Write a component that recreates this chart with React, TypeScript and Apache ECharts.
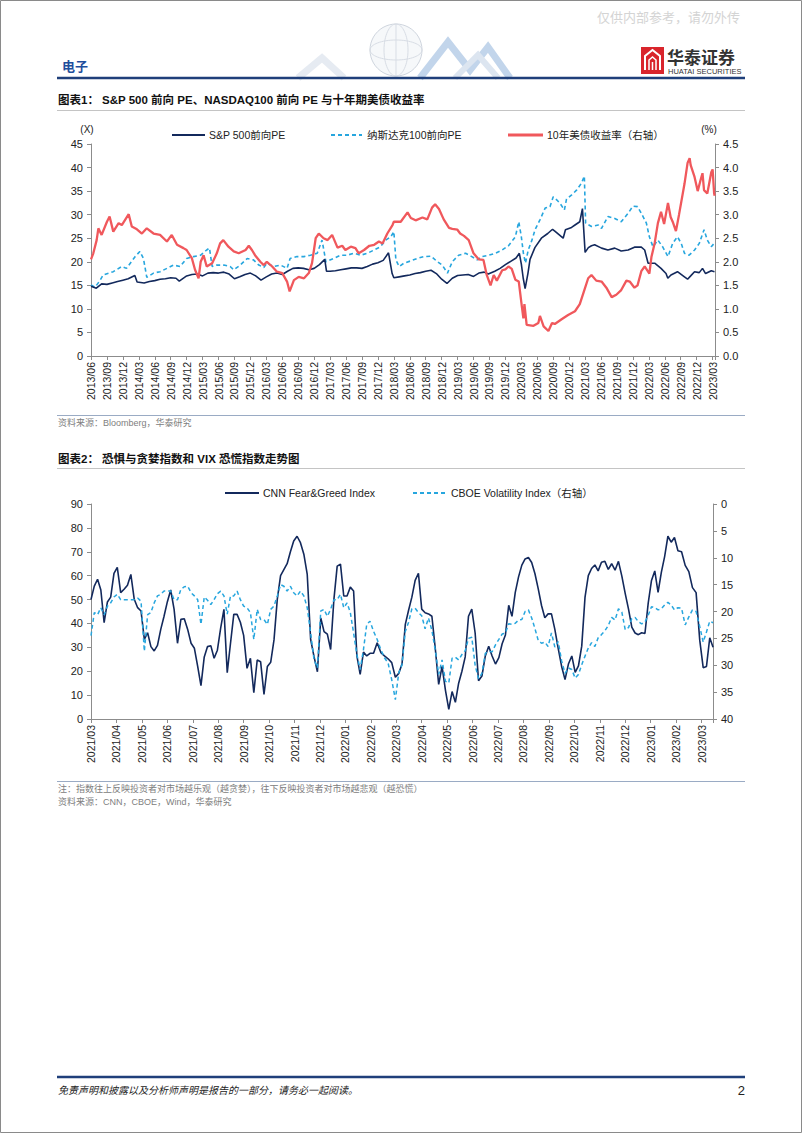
import React, { useEffect, useRef } from "react";
import * as echarts from "echarts";

// ---------- Chart 1: S&P 500 fwd PE, NASDAQ100 fwd PE, 10Y UST yield ----------
const spxPE: [string, number][] = [
  ["2013-06-01", 14.8], ["2013-07-01", 14.4], ["2013-08-01", 15.3], ["2013-09-01", 15.2], ["2013-10-01", 15.5],
  ["2013-11-01", 15.8], ["2013-12-01", 16.1], ["2014-01-01", 16.4], ["2014-02-08", 17.1], ["2014-02-20", 15.7],
  ["2014-04-01", 15.5], ["2014-05-01", 15.8], ["2014-06-01", 16.0], ["2014-07-01", 16.3], ["2014-08-01", 16.4],
  ["2014-09-01", 16.6], ["2014-10-01", 16.5], ["2014-10-20", 15.9], ["2014-12-01", 17.0], ["2015-01-01", 17.3],
  ["2015-02-01", 17.4], ["2015-03-01", 17.0], ["2015-04-01", 17.6], ["2015-05-01", 17.7], ["2015-06-01", 17.6],
  ["2015-07-01", 17.8], ["2015-08-01", 17.4], ["2015-09-01", 16.4], ["2015-10-01", 16.8], ["2015-11-01", 17.3],
  ["2015-12-01", 17.6], ["2016-01-01", 17.0], ["2016-02-01", 16.1], ["2016-03-01", 16.8], ["2016-04-01", 17.4],
  ["2016-05-01", 17.6], ["2016-06-01", 17.3], ["2016-07-01", 18.0], ["2016-08-01", 18.6], ["2016-09-01", 18.7],
  ["2016-10-01", 18.6], ["2016-11-01", 18.3], ["2016-12-01", 18.6], ["2017-01-01", 19.4], ["2017-02-01", 20.5],
  ["2017-02-10", 18.0], ["2017-03-01", 18.0], ["2017-04-01", 18.1], ["2017-05-01", 18.3], ["2017-06-01", 18.5],
  ["2017-07-01", 18.7], ["2017-08-01", 18.7], ["2017-09-01", 18.6], ["2017-10-01", 19.0], ["2017-11-01", 19.5],
  ["2017-12-01", 19.8], ["2018-01-01", 20.3], ["2018-02-01", 21.9], ["2018-02-20", 17.5], ["2018-03-01", 16.6],
  ["2018-04-01", 16.8], ["2018-05-01", 17.0], ["2018-06-01", 17.2], ["2018-07-01", 17.5], ["2018-08-01", 17.7],
  ["2018-09-01", 18.0], ["2018-10-01", 18.2], ["2018-11-01", 17.5], ["2018-12-01", 16.3], ["2019-01-01", 15.4],
  ["2019-02-01", 16.5], ["2019-03-01", 17.1], ["2019-04-01", 17.2], ["2019-05-01", 17.3], ["2019-06-01", 16.9],
  ["2019-07-01", 17.6], ["2019-08-01", 17.8], ["2019-08-25", 17.4], ["2019-10-01", 18.0], ["2019-11-01", 18.6],
  ["2019-12-01", 19.4], ["2020-01-01", 20.1], ["2020-02-01", 20.8], ["2020-02-19", 21.8], ["2020-03-01", 19.5],
  ["2020-03-12", 16.5], ["2020-03-23", 14.3], ["2020-04-08", 17.5], ["2020-04-20", 20.5], ["2020-05-18", 23.0],
  ["2020-06-24", 25.0], ["2020-07-31", 26.0], ["2020-08-28", 26.9], ["2020-09-10", 26.5], ["2020-10-28", 25.0],
  ["2020-11-10", 26.8], ["2020-12-15", 27.3], ["2021-01-04", 27.8], ["2021-02-01", 28.5], ["2021-02-15", 31.3],
  ["2021-03-01", 22.0], ["2021-03-20", 23.0], ["2021-04-07", 23.4], ["2021-04-25", 23.6], ["2021-06-04", 22.9],
  ["2021-07-10", 22.5], ["2021-08-19", 22.9], ["2021-09-25", 22.3], ["2021-11-04", 22.5], ["2021-12-10", 23.1],
  ["2022-01-19", 23.1], ["2022-02-07", 22.5], ["2022-02-25", 19.7], ["2022-04-04", 19.7], ["2022-05-10", 18.6],
  ["2022-06-08", 17.5], ["2022-06-18", 16.5], ["2022-07-06", 17.2], ["2022-08-13", 17.9], ["2022-09-22", 16.8],
  ["2022-10-10", 16.3], ["2022-10-28", 17.0], ["2022-11-19", 17.9], ["2022-12-16", 17.7], ["2023-01-04", 18.6],
  ["2023-01-22", 17.5], ["2023-02-22", 18.1], ["2023-03-12", 17.9],
];

const ndxPE: [string, number][] = [
  ["2013-06-01", 15.1], ["2013-06-24", 14.6], ["2013-07-22", 16.0], ["2013-08-10", 17.2], ["2013-10-07", 17.9],
  ["2013-11-25", 19.0], ["2013-12-22", 18.6], ["2014-02-10", 21.1], ["2014-03-07", 22.2], ["2014-03-28", 20.7],
  ["2014-04-16", 16.7], ["2014-05-25", 17.6], ["2014-07-01", 17.9], ["2014-08-10", 18.6], ["2014-09-16", 19.3],
  ["2014-10-25", 19.0], ["2014-12-01", 20.7], ["2015-01-10", 21.1], ["2015-02-19", 21.4], ["2015-03-25", 22.5],
  ["2015-04-10", 22.9], ["2015-04-25", 19.0], ["2015-05-22", 19.3], ["2015-07-01", 19.3], ["2015-08-07", 19.0],
  ["2015-08-28", 18.3], ["2015-10-04", 19.3], ["2015-11-13", 20.7], ["2015-12-19", 20.4], ["2016-01-19", 19.3],
  ["2016-02-16", 18.8], ["2016-03-04", 19.7], ["2016-04-13", 19.0], ["2016-05-22", 19.3], ["2016-06-28", 18.6],
  ["2016-07-16", 20.7], ["2016-08-25", 21.1], ["2016-10-04", 21.1], ["2016-11-10", 21.4], ["2016-12-19", 21.8],
  ["2017-01-16", 24.6], ["2017-02-07", 20.0], ["2017-03-22", 20.7], ["2017-05-01", 21.4], ["2017-06-07", 21.4],
  ["2017-07-16", 21.8], ["2017-08-25", 21.4], ["2017-10-01", 21.8], ["2017-11-10", 22.5], ["2017-12-16", 23.2],
  ["2018-01-16", 24.6], ["2018-02-13", 25.3], ["2018-03-01", 26.4], ["2018-03-13", 20.4], ["2018-04-01", 19.0],
  ["2018-04-28", 19.7], ["2018-06-07", 20.2], ["2018-07-13", 20.7], ["2018-08-22", 21.1], ["2018-10-01", 21.2],
  ["2018-11-07", 20.0], ["2018-12-04", 19.3], ["2019-01-04", 17.6], ["2019-02-01", 20.0], ["2019-03-07", 21.4],
  ["2019-04-16", 21.8], ["2019-05-22", 21.1], ["2019-06-22", 20.4], ["2019-07-19", 21.1], ["2019-08-28", 21.4],
  ["2019-10-04", 21.8], ["2019-11-13", 22.5], ["2019-12-19", 23.4], ["2020-01-28", 25.3], ["2020-02-16", 28.5],
  ["2020-03-01", 25.3], ["2020-03-13", 21.8], ["2020-03-25", 19.7], ["2020-04-10", 22.5], ["2020-05-01", 24.6],
  ["2020-05-19", 26.8], ["2020-06-16", 28.9], ["2020-07-16", 31.4], ["2020-08-13", 31.7], ["2020-09-01", 33.8],
  ["2020-09-22", 33.1], ["2020-10-10", 32.4], ["2020-11-04", 31.0], ["2020-11-16", 33.3], ["2020-12-16", 34.2],
  ["2021-01-13", 35.2], ["2021-02-10", 36.7], ["2021-02-25", 38.2], ["2021-03-04", 28.2], ["2021-04-07", 27.5],
  ["2021-05-16", 27.8], ["2021-06-04", 27.1], ["2021-07-10", 29.6], ["2021-08-19", 29.2], ["2021-09-25", 28.5],
  ["2021-11-04", 30.3], ["2021-12-01", 31.8], ["2021-12-28", 31.7], ["2022-01-19", 30.3], ["2022-02-16", 28.2],
  ["2022-03-04", 25.3], ["2022-03-25", 23.2], ["2022-04-22", 24.6], ["2022-05-19", 23.2], ["2022-06-19", 21.1],
  ["2022-07-16", 23.9], ["2022-08-13", 25.3], ["2022-09-04", 23.9], ["2022-09-22", 21.8], ["2022-10-19", 21.4],
  ["2022-11-19", 22.5], ["2022-12-16", 23.9], ["2023-01-13", 26.8], ["2023-02-01", 24.6], ["2023-02-22", 23.2],
  ["2023-03-10", 23.9],
];

const ust10y: [string, number][] = [
  ["2013-06-01", 2.05], ["2013-06-14", 2.18], ["2013-07-03", 2.46], ["2013-07-13", 2.71], ["2013-08-01", 2.57],
  ["2013-09-01", 2.85], ["2013-09-16", 2.96], ["2013-10-07", 2.64], ["2013-11-07", 2.82], ["2013-11-25", 2.78],
  ["2014-01-04", 3.01], ["2014-01-22", 2.75], ["2014-02-19", 2.69], ["2014-03-19", 2.6], ["2014-04-16", 2.71],
  ["2014-05-25", 2.6], ["2014-07-01", 2.57], ["2014-08-10", 2.43], ["2014-09-07", 2.57], ["2014-10-07", 2.36],
  ["2014-11-13", 2.29], ["2014-12-01", 2.25], ["2015-01-01", 2.07], ["2015-01-19", 1.83], ["2015-02-08", 1.65],
  ["2015-02-19", 2.0], ["2015-03-07", 2.14], ["2015-03-25", 1.9], ["2015-04-25", 1.97], ["2015-05-22", 2.18],
  ["2015-06-10", 2.39], ["2015-06-28", 2.46], ["2015-07-28", 2.32], ["2015-08-28", 2.22], ["2015-09-25", 2.18],
  ["2015-11-04", 2.25], ["2015-11-22", 2.34], ["2015-12-10", 2.25], ["2015-12-28", 2.14], ["2016-01-28", 2.0],
  ["2016-02-16", 1.93], ["2016-03-04", 2.0], ["2016-04-04", 1.9], ["2016-05-01", 1.79], ["2016-06-01", 1.76],
  ["2016-06-28", 1.58], ["2016-07-13", 1.37], ["2016-08-07", 1.61], ["2016-09-04", 1.68], ["2016-10-04", 1.65],
  ["2016-11-01", 1.76], ["2016-11-19", 1.97], ["2016-12-10", 2.5], ["2016-12-28", 2.6], ["2017-01-25", 2.5],
  ["2017-02-16", 2.46], ["2017-03-13", 2.57], ["2017-04-13", 2.3], ["2017-05-10", 2.34], ["2017-05-28", 2.25],
  ["2017-06-28", 2.32], ["2017-07-25", 2.29], ["2017-08-13", 2.18], ["2017-09-13", 2.25], ["2017-10-13", 2.34],
  ["2017-11-10", 2.36], ["2017-12-07", 2.43], ["2017-12-28", 2.39], ["2018-01-25", 2.6], ["2018-02-22", 2.78],
  ["2018-03-01", 2.85], ["2018-04-10", 2.85], ["2018-05-19", 3.05], ["2018-06-07", 2.93], ["2018-07-04", 2.88],
  ["2018-08-13", 2.94], ["2018-09-10", 2.9], ["2018-10-07", 3.15], ["2018-10-25", 3.22], ["2018-11-16", 3.12],
  ["2018-12-13", 2.9], ["2019-01-13", 2.72], ["2019-02-01", 2.7], ["2019-02-28", 2.68], ["2019-03-16", 2.6],
  ["2019-04-07", 2.55], ["2019-05-04", 2.46], ["2019-06-01", 2.18], ["2019-07-01", 2.05], ["2019-07-28", 2.04],
  ["2019-08-16", 1.72], ["2019-09-07", 1.5], ["2019-09-25", 1.72], ["2019-10-13", 1.6], ["2019-11-13", 1.82],
  ["2019-12-01", 1.84], ["2019-12-19", 1.9], ["2020-01-07", 1.85], ["2020-01-28", 1.62], ["2020-02-16", 1.58],
  ["2020-03-04", 1.05], ["2020-03-13", 0.8], ["2020-03-19", 1.1], ["2020-04-01", 0.66], ["2020-05-10", 0.64],
  ["2020-06-07", 0.7], ["2020-06-16", 0.85], ["2020-07-07", 0.63], ["2020-08-04", 0.53], ["2020-08-25", 0.7],
  ["2020-09-10", 0.68], ["2020-10-19", 0.78], ["2020-11-25", 0.87], ["2021-01-04", 0.95], ["2021-02-01", 1.1],
  ["2021-02-25", 1.4], ["2021-03-19", 1.65], ["2021-04-07", 1.72], ["2021-05-04", 1.6], ["2021-06-04", 1.58],
  ["2021-07-01", 1.45], ["2021-08-01", 1.25], ["2021-08-28", 1.3], ["2021-09-25", 1.4], ["2021-10-25", 1.6],
  ["2021-11-13", 1.58], ["2021-12-10", 1.45], ["2021-12-28", 1.5], ["2022-01-19", 1.8], ["2022-02-07", 1.9],
  ["2022-03-04", 1.75], ["2022-03-16", 2.1], ["2022-04-04", 2.4], ["2022-04-22", 2.82], ["2022-05-10", 3.06],
  ["2022-05-28", 2.8], ["2022-06-19", 3.25], ["2022-07-04", 2.95], ["2022-07-16", 2.85], ["2022-08-04", 2.65],
  ["2022-08-22", 3.0], ["2022-09-22", 3.65], ["2022-10-10", 4.1], ["2022-10-22", 4.2], ["2022-10-28", 4.05],
  ["2022-11-19", 3.8], ["2022-12-07", 3.5], ["2022-12-25", 3.75], ["2023-01-04", 3.88], ["2023-01-13", 3.52],
  ["2023-02-01", 3.45], ["2023-02-22", 3.9], ["2023-03-01", 3.96], ["2023-03-10", 3.45], ["2023-03-13", 3.4],
];

// ---------- Chart 2: CNN Fear & Greed vs CBOE VIX (every 4 days from 2021-03-01) ----------
const fgStartDate = "2021-03-01";
const fgStepDays = 4;
const fearGreed: number[] = [
  50, 55.6, 58.5, 54, 40.3, 49, 51, 61, 63.5, 52.9,
  54.3, 56, 60.5, 50.1, 46.6, 45.2, 33.3, 36.1, 30.3, 28.5,
  30.8, 37.5, 43, 49, 54, 45.9, 31.7, 41.7, 42, 37.5,
  31.7, 29.6, 22, 14, 26, 30.3, 30.7, 25.4, 28.8, 38,
  45.9, 19.4, 31.7, 43.8, 43.8, 40.5, 35, 21.2, 25.4, 11,
  24.7, 24, 10.3, 22, 23.8, 33.1, 50.1, 60, 62.5, 65,
  70, 74.5, 76.5, 73.8, 69, 60.5, 33.3, 26.1, 19.8, 42.3,
  36.6, 35.5, 29.1, 50.1, 64, 64.8, 51.5, 51.5, 55.2, 53.6,
  26.4, 18.7, 28, 26.4, 27.5, 27.5, 31.9, 27.8, 26.4, 25.2,
  23.6, 17.5, 19.1, 23, 39.6, 45.5, 51, 58, 61, 46,
  44.5, 44, 43, 29.5, 14.5, 22, 12, 4, 11.5, 7,
  15, 20, 26, 43, 46, 36, 16, 18, 26.4, 30.5,
  26.4, 23, 25.7, 31.5, 35.2, 47.6, 43, 53, 59.5, 64.4,
  67, 67.6, 65.5, 60.8, 54.5, 47.5, 42.4, 44, 44, 37.5,
  29.5, 22, 16.5, 23, 26.4, 19.5, 22.2, 30.5, 51, 60,
  63, 64.5, 62, 65.6, 66, 62.6, 65, 62.3, 66, 59.8,
  52.5, 46, 38.5, 36, 35.3, 36.1, 35.8, 48.5, 58, 62,
  53, 61.4, 68, 76.5, 74, 76, 70.4, 70, 64.3, 61.7,
  55, 52.9, 33, 21.5, 22, 34, 30,
];
const vix: number[] = [
  24.5, 20.2, 20.6, 19.3, 20.6, 19, 18.4, 17.3, 16.8, 17.8,
  17.8, 17.8, 17.8, 17.8, 17.5, 18.1, 27.4, 20.6, 20.2, 18.4,
  17.1, 16.8, 16.2, 16.2, 16.2, 17.8, 17.8, 15.9, 15.4, 15.3,
  16.5, 17.1, 17.8, 22.4, 17.3, 17.9, 18.7, 17.8, 16.7, 16.2,
  17.1, 20.5, 17.1, 17.1, 16.2, 17.8, 19, 19.3, 20.2, 25.2,
  19.6, 21.5, 21.5, 22.4, 19.6, 19, 17.1, 15, 15.3, 16.2,
  15.3, 16.5, 17.1, 16.2, 17.1, 19.3, 24, 28.9, 30.5, 19.9,
  19.6, 20.9, 19.6, 17.8, 17.8, 16.8, 19.3, 18.4, 20.2, 24,
  28, 30.8, 27.1, 22.4, 21.8, 23.7, 25.2, 27.1, 28.6, 29.6,
  32.7, 36.4, 31.4, 29.9, 23.7, 22, 19.5, 19.4, 20.2, 20.8,
  23.2, 21.2, 23.5, 27.2, 31.7, 29, 33, 33.3, 28.7, 28.5,
  29, 28, 27.3, 25, 24.8, 30, 32.5, 31.5, 27.8, 27.4,
  27.5, 26.2, 25.2, 24.2, 24, 22.3, 22.4, 22.2, 21.6, 21.5,
  20, 19.7, 21.2, 23.2, 25.4, 25.9, 25.7, 26.5, 24, 26.6,
  25.6, 29.2, 31.5, 30.5, 30.8, 32.4, 31.7, 29.9, 28.3, 26.8,
  25.8, 26.5, 24.9, 24.3, 23.6, 22.6, 21.1, 21.6, 19.5, 20.1,
  23.4, 23, 21.3, 21.1, 21.9, 22.3, 22, 20.7, 19.1, 19.3,
  19.7, 19.5, 18.8, 18.3, 18.8, 19.7, 19.3, 19.4, 22.5, 21,
  19.7, 20, 22.8, 25.7, 23.8, 21.8, 22.1,
];

// ---------- helpers ----------
const LATIN = '"Liberation Sans", Arial, "Noto Sans CJK SC", sans-serif';
const CJK = '"Liberation Sans", "Noto Sans CJK SC", sans-serif';

function monthsSince(date: string, baseY: number, baseM: number): number {
  const [y, mo, d] = date.split("-").map(Number);
  const dim = new Date(Date.UTC(y, mo, 0)).getUTCDate();
  return (y - baseY) * 12 + (mo - baseM) + ((d || 1) - 1) / dim;
}
function toSeries(rows: [string, number][], baseY: number, baseM: number) {
  return rows.map(([d, v]) => [monthsSince(d, baseY, baseM), v]);
}
function stepDates(start: string, step: number, n: number): string[] {
  const [y, m, d] = start.split("-").map(Number);
  const t0 = Date.UTC(y, m - 1, d);
  const out: string[] = [];
  for (let i = 0; i < n; i++) {
    const dt = new Date(t0 + i * step * 86400000);
    out.push(`${dt.getUTCFullYear()}-${dt.getUTCMonth() + 1}-${dt.getUTCDate()}`);
  }
  return out;
}
function monthLabel(v: number, baseY: number, baseM: number, every: number) {
  const r = Math.round(v);
  if (Math.abs(v - r) > 1e-6 || r % every !== 0) return "";
  const total = baseM - 1 + r;
  const y = baseY + Math.floor(total / 12);
  const mo = (total % 12) + 1;
  return `${y}/${mo < 10 ? "0" + mo : mo}`;
}

const NAVY = "#13295c";
const CYAN = "#27a6de";
const RED = "#f0585c";
const AXIS = "#8c8c8c";

function txt(text: string, x: number, y: number, o: any = {}) {
  return {
    type: "text",
    silent: true,
    style: {
      text, x, y,
      fill: o.fill || "#222",
      fontSize: o.size || 11,
      fontFamily: o.family || CJK,
      fontWeight: o.weight || "normal",
      fontStyle: o.style || "normal",
      align: o.align || "left",
      verticalAlign: o.va || "middle",
    },
  };
}
function hline(x1: number, x2: number, y: number, stroke: string, w: number, dash?: number[]) {
  return { type: "line", silent: true, shape: { x1, y1: y, x2, y2: y }, style: { stroke, lineWidth: w, lineDash: dash } };
}

export default function App() {
  const ref = useRef<HTMLDivElement>(null);
  useEffect(() => {
    if (!ref.current) return;
    const chart = echarts.init(ref.current, null, { renderer: "svg" });

    const fgDates = stepDates(fgStartDate, fgStepDays, fearGreed.length);
    const fgX = fgDates.map((d) => monthsSince(d, 2021, 3));

    const axisLabelBase = { color: "#222", fontSize: 11, fontFamily: LATIN };

    const graphic: any[] = [
      // page frame
      { type: "rect", silent: true, shape: { x: 0.5, y: 0.5, width: 801, height: 1132 }, style: { fill: "none", stroke: "#8a8a8a", lineWidth: 1 } },
      // watermark
      txt("仅供内部参考，请勿外传", 740, 17, { fill: "#d4d4d4", size: 13, align: "right" }),
      // header decoration (globe + ribbons)
      { type: "polyline", silent: true, shape: { points: [[298, 78], [322, 58], [344, 78]] }, style: { fill: "none", stroke: "#e6ebf2", lineWidth: 7 } },
      { type: "circle", silent: true, shape: { cx: 396, cy: 50, r: 26 }, style: { fill: "rgba(240,243,247,0.6)", stroke: "#cfd5de", lineWidth: 1 } },
      { type: "ellipse", silent: true, shape: { cx: 396, cy: 50, rx: 12, ry: 26 }, style: { fill: "none", stroke: "#d8dde5", lineWidth: 1 } },
      { type: "ellipse", silent: true, shape: { cx: 396, cy: 50, rx: 26, ry: 10 }, style: { fill: "none", stroke: "#d8dde5", lineWidth: 1 } },
      { type: "line", silent: true, shape: { x1: 396, y1: 24, x2: 396, y2: 76 }, style: { stroke: "#d8dde5", lineWidth: 1 } },
      { type: "polyline", silent: true, shape: { points: [[420, 78], [448, 42], [470, 70], [488, 47], [510, 78]] }, style: { fill: "none", stroke: "#b3cae6", lineWidth: 7, opacity: 0.8 } },
      { type: "polyline", silent: true, shape: { points: [[455, 78], [478, 55], [498, 78]] }, style: { fill: "none", stroke: "#dce5f0", lineWidth: 6 } },
      // section label
      txt("电子", 62, 66, { fill: "#1f4e9c", size: 13, weight: "bold" }),
      // logo
      { type: "rect", silent: true, shape: { x: 641, y: 47, width: 23, height: 27 }, style: { fill: "#d9252c" } },
      { type: "polyline", silent: true, shape: { points: [[645, 70], [645, 56], [652.5, 50], [660, 56], [660, 70]] }, style: { fill: "none", stroke: "#fff", lineWidth: 2 } },
      { type: "polyline", silent: true, shape: { points: [[649, 70], [649, 60], [652.5, 57], [656, 60], [656, 70]] }, style: { fill: "none", stroke: "#fff", lineWidth: 1.5 } },
      { type: "line", silent: true, shape: { x1: 652.5, y1: 62, x2: 652.5, y2: 70 }, style: { stroke: "#fff", lineWidth: 1.5 } },
      txt("华泰证券", 667, 58, { fill: "#333", size: 17, weight: "bold" }),
      txt("HUATAI SECURITIES", 668, 71, { fill: "#333", size: 7.5, family: LATIN }),
      hline(57, 745, 78, "#1f3f7a", 2.5),

      // ----- chart 1 header -----
      txt("图表1： S&P 500 前向 PE、NASDAQ100 前向 PE 与十年期美债收益率", 58, 100, { size: 11.5, weight: "bold", fill: "#111" }),
      hline(57, 745, 110.5, "#c4c4c4", 1),
      txt("(X)", 87, 129, { size: 10, align: "center", family: LATIN }),
      txt("(%)", 709, 129, { size: 10, align: "center", family: LATIN }),
      hline(172, 205, 135, NAVY, 2),
      txt("S&P 500前向PE", 209, 135, { size: 10.5 }),
      hline(331, 362, 135, CYAN, 2, [4, 3]),
      txt("纳斯达克100前向PE", 367, 135, { size: 10.5 }),
      hline(508, 543, 135, RED, 3),
      txt("10年美债收益率（右轴）", 547, 135, { size: 10.5 }),
      hline(57, 745, 415.5, "#9aabc4", 1),
      txt("资料来源：Bloomberg，华泰研究", 58, 423, { size: 9, fill: "#808080" }),

      // ----- chart 2 header -----
      txt("图表2： 恐惧与贪婪指数和 VIX 恐慌指数走势图", 58, 459, { size: 11.5, weight: "bold", fill: "#111" }),
      hline(57, 745, 468.5, "#c4c4c4", 1),
      hline(225, 259, 493, NAVY, 2),
      txt("CNN Fear&Greed Index", 263, 493, { size: 10.5 }),
      hline(413, 447, 493, CYAN, 2, [4, 3]),
      txt("CBOE Volatility Index（右轴）", 451, 493, { size: 10.5 }),
      hline(57, 745, 781.5, "#9aabc4", 1),
      txt("注：指数往上反映投资者对市场越乐观（越贪婪），往下反映投资者对市场越悲观（越恐慌）", 58, 789, { size: 9, fill: "#808080" }),
      txt("资料来源：CNN，CBOE，Wind，华泰研究", 58, 802, { size: 9, fill: "#808080" }),

      // ----- footer -----
      hline(57, 745, 1077, "#1f3f7a", 2.5),
      txt("免责声明和披露以及分析师声明是报告的一部分，请务必一起阅读。", 58, 1090, { size: 10, style: "italic", fill: "#222" }),
      txt("2", 745, 1090, { size: 13, align: "right", family: LATIN }),
    ];

    const yLeft = (gi: number, max: number, interval: number, extra: any = {}) => ({
      type: "value", gridIndex: gi, min: 0, max, interval, position: "left",
      axisLine: { show: true, lineStyle: { color: AXIS, width: 1 } },
      axisTick: { show: true, length: 4, lineStyle: { color: AXIS } },
      splitLine: { show: false },
      axisLabel: { ...axisLabelBase, margin: 8 },
      ...extra,
    });

    const option: any = {
      animation: false,
      backgroundColor: "#fff",
      graphic,
      grid: [
        { left: 91, top: 144, width: 624, height: 212, containLabel: false },
        { left: 91, top: 504, width: 622, height: 215, containLabel: false },
      ],
      xAxis: [
        {
          type: "value", gridIndex: 0, min: 0, max: 117.45, interval: 3,
          axisLine: { show: true, onZero: false, lineStyle: { color: AXIS } },
          axisTick: { show: true, length: 4, lineStyle: { color: AXIS } },
          splitLine: { show: false },
          axisLabel: { ...axisLabelBase, fontSize: 10.5, rotate: 90, margin: 6, showMaxLabel: true,
            formatter: (v: number) => monthLabel(v, 2013, 6, 3) },
        },
        {
          type: "value", gridIndex: 1, min: 0, max: 24.45, interval: 1,
          axisLine: { show: true, onZero: false, lineStyle: { color: AXIS } },
          axisTick: { show: true, length: 4, lineStyle: { color: AXIS } },
          splitLine: { show: false },
          axisLabel: { ...axisLabelBase, fontSize: 10.5, rotate: 90, margin: 6,
            formatter: (v: number) => monthLabel(v, 2021, 3, 1) },
        },
      ],
      yAxis: [
        yLeft(0, 45, 5),
        {
          type: "value", gridIndex: 0, min: 0, max: 4.5, interval: 0.5, position: "right",
          axisLine: { show: true, lineStyle: { color: AXIS } },
          axisTick: { show: true, length: 4, lineStyle: { color: AXIS } },
          splitLine: { show: false },
          axisLabel: { ...axisLabelBase, margin: 8, formatter: (v: number) => v.toFixed(1) },
        },
        yLeft(1, 90, 10),
        {
          type: "value", gridIndex: 1, min: 0, max: 40, interval: 5, position: "right", inverse: true,
          axisLine: { show: true, lineStyle: { color: AXIS } },
          axisTick: { show: true, length: 4, lineStyle: { color: AXIS } },
          splitLine: { show: false },
          axisLabel: { ...axisLabelBase, margin: 8 },
        },
      ],
      series: [
        {
          name: "纳斯达克100前向PE", type: "line", xAxisIndex: 0, yAxisIndex: 0, showSymbol: false,
          data: toSeries(ndxPE, 2013, 6), lineStyle: { color: CYAN, width: 1.6, type: [4, 3] }, itemStyle: { color: CYAN },
        },
        {
          name: "S&P 500前向PE", type: "line", xAxisIndex: 0, yAxisIndex: 0, showSymbol: false,
          data: toSeries(spxPE, 2013, 6), lineStyle: { color: NAVY, width: 1.6 }, itemStyle: { color: NAVY },
        },
        {
          name: "10年美债收益率（右轴）", type: "line", xAxisIndex: 0, yAxisIndex: 1, showSymbol: false,
          data: toSeries(ust10y, 2013, 6), lineStyle: { color: RED, width: 2.3 }, itemStyle: { color: RED },
        },
        {
          name: "CNN Fear&Greed Index", type: "line", xAxisIndex: 1, yAxisIndex: 2, showSymbol: false,
          data: fearGreed.map((v, i) => [fgX[i], v]), lineStyle: { color: NAVY, width: 1.6 }, itemStyle: { color: NAVY },
        },
        {
          name: "CBOE Volatility Index（右轴）", type: "line", xAxisIndex: 1, yAxisIndex: 3, showSymbol: false,
          data: vix.map((v, i) => [fgX[i], v]), lineStyle: { color: CYAN, width: 1.5, type: [4, 3] }, itemStyle: { color: CYAN },
        },
      ],
    };

    chart.setOption(option);
    return () => chart.dispose();
  }, []);

  return (
    <div
      ref={ref}
      style={{ position: "absolute", left: 0, top: 0, width: 802, height: 1133, background: "#fff" }}
    />
  );
}
